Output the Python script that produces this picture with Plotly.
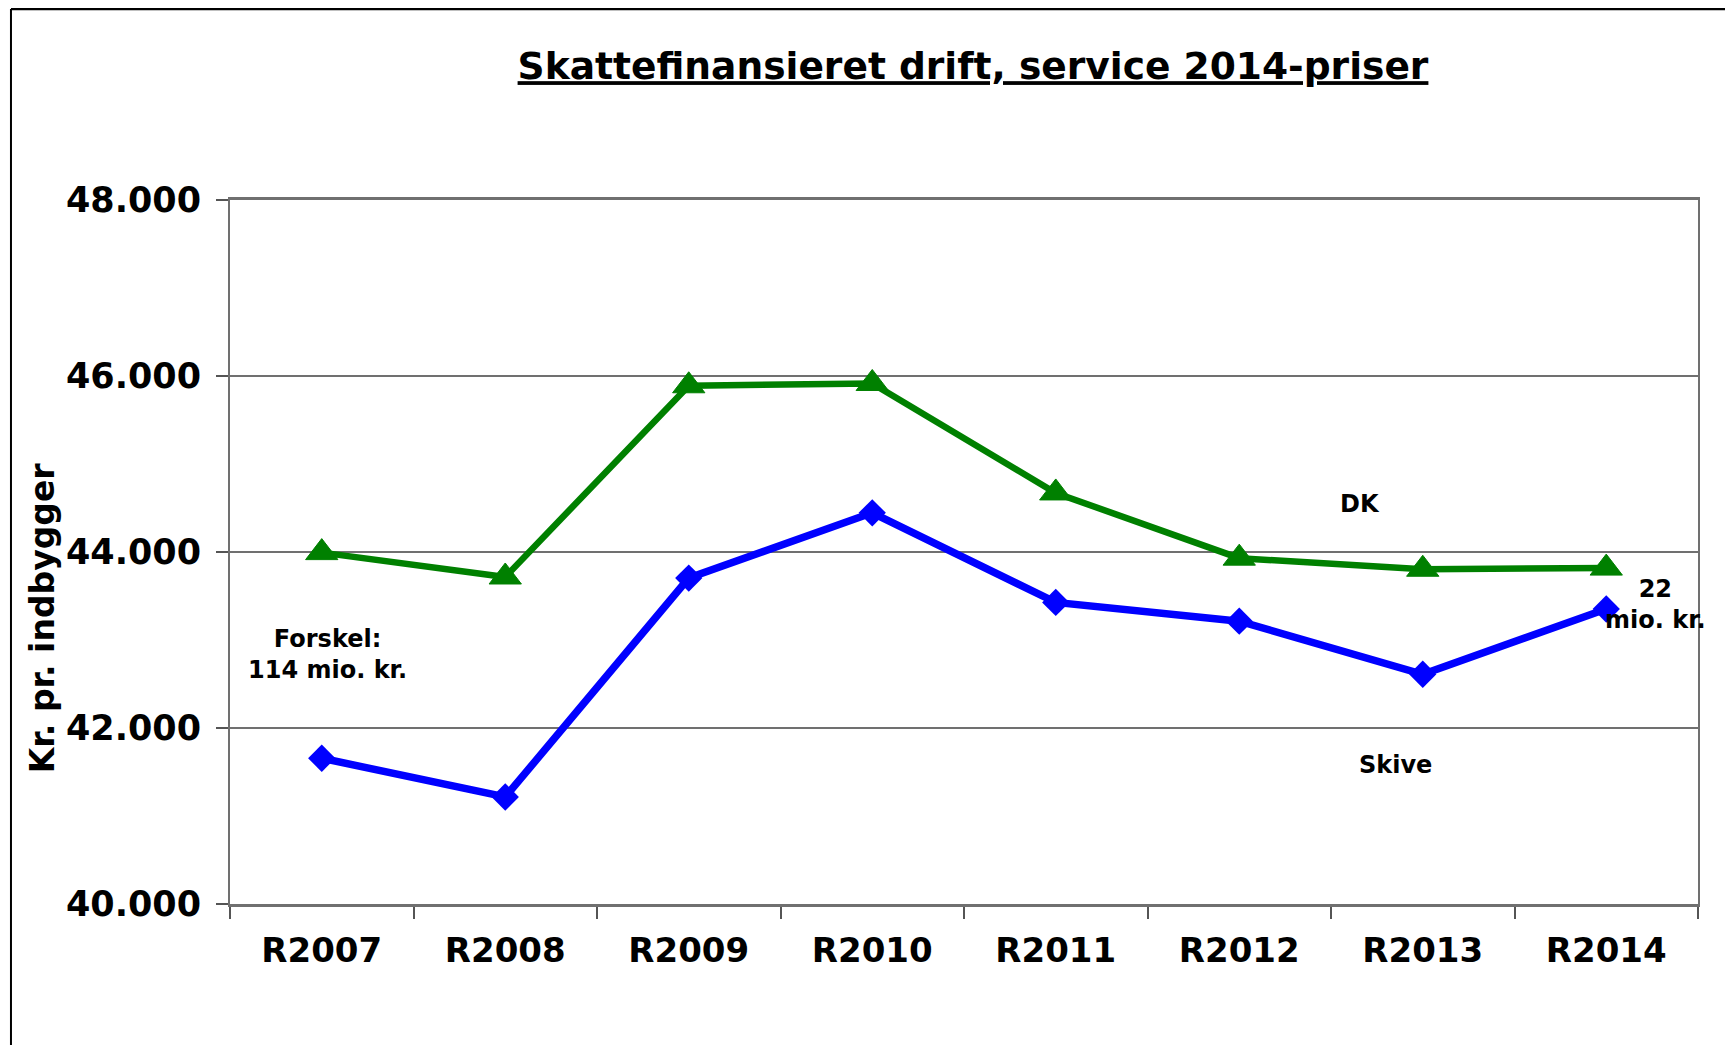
import plotly.graph_objects as go

categories = ["R2007", "R2008", "R2009", "R2010", "R2011", "R2012", "R2013", "R2014"]
dk_values = [43993, 43716, 45889, 45915, 44671, 43930, 43804, 43817]
skive_values = [41656, 41216, 43704, 44445, 43427, 43214, 42611, 43352]
y_tickvals = [40000, 42000, 44000, 46000, 48000]
y_ticktext = ["40.000", "42.000", "44.000", "46.000", "48.000"]

FONT = "Verdana, DejaVu Sans, sans-serif"

fig = go.Figure()
fig.add_trace(go.Scatter(
    x=categories, y=dk_values, mode="lines+markers", name="DK",
    line=dict(color="#008000", width=6.5),
    marker=dict(symbol="triangle-up", size=28, color="#008000", line=dict(width=1, color="#008000")),
))
fig.add_trace(go.Scatter(
    x=categories, y=skive_values, mode="lines+markers", name="Skive",
    line=dict(color="#0000FF", width=7.5),
    marker=dict(symbol="diamond", size=21, color="#0000FF"),
))

ann_font = dict(family=FONT, size=24, color="black")
fig.add_annotation(x=0.03, y=42830, xref="x", yref="y", text="<b>Forskel:<br>114 mio. kr.</b>",
                   showarrow=False, font=ann_font, align="center")
fig.add_annotation(x=5.66, y=44545, xref="x", yref="y", text="<b>DK</b>",
                   showarrow=False, font=ann_font)
fig.add_annotation(x=5.85, y=41580, xref="x", yref="y", text="<b>Skive</b>",
                   showarrow=False, font=ann_font)
fig.add_annotation(x=7.27, y=43409, xref="x", yref="y", text="<b>22<br>mio. kr.</b>",
                   showarrow=False, font=ann_font, align="center")

# y-axis title as annotation (placed like the reference)
fig.add_annotation(x=-0.128, y=0.406, xref="paper", yref="paper", xanchor="center", yanchor="middle",
                   text="<b>Kr. pr. indbygger</b>", textangle=-90, showarrow=False,
                   font=dict(family=FONT, size=33, color="black"))

# outer frame (top and left black, right light gray)
fig.add_shape(type="line", xref="paper", yref="paper", x0=-0.1492, x1=1.0215, y0=1.2713, y1=1.2713,
              line=dict(color="black", width=2.5))
fig.add_shape(type="line", xref="paper", yref="paper", x0=-0.1492, x1=-0.1492, y0=-0.3, y1=1.2713,
              line=dict(color="black", width=2))
fig.add_shape(type="line", xref="paper", yref="paper", x0=1.0215, x1=1.0215, y0=-0.3, y1=1.2713,
              line=dict(color="#b0b0b0", width=1.5))

fig.update_layout(
    width=1733, height=1045,
    margin=dict(l=222, r=43, t=192, b=149),
    paper_bgcolor="white", plot_bgcolor="white",
    showlegend=False,
    title=dict(text="<b><u>Skattefinansieret drift, service 2014-priser</u></b>",
               x=965/1733, xref="container", xanchor="center",
               y=1-58/1045, yref="container", yanchor="middle",
               font=dict(family=FONT, size=37.6, color="black")),
    font=dict(family=FONT, color="black"),
)
fig.update_xaxes(
    type="category", range=[-0.5, 7.5], tickson="boundaries",
    ticks="outside", ticklen=12, tickcolor="#555555", tickwidth=1.5,
    showline=True, linecolor="#707070", linewidth=2.5, mirror=True,
    showgrid=False,
    tickfont=dict(family=FONT, size=34, color="black"),
    ticklabelstandoff=14,
    tickprefix="<b>", ticksuffix="</b>",
    automargin=False,
)
fig.update_yaxes(
    range=[40000, 48000], tickvals=y_tickvals, ticktext=[f"<b>{t}</b>" for t in y_ticktext],
    ticks="outside", ticklen=12, tickcolor="#555555", tickwidth=1.5,
    showline=True, linecolor="#707070", linewidth=2, mirror=True,
    showgrid=True, gridcolor="#707070", gridwidth=2,
    tickfont=dict(family=FONT, size=35, color="black"),
    ticklabelstandoff=8,
    automargin=False,
)

fig.write_html("out.html")
